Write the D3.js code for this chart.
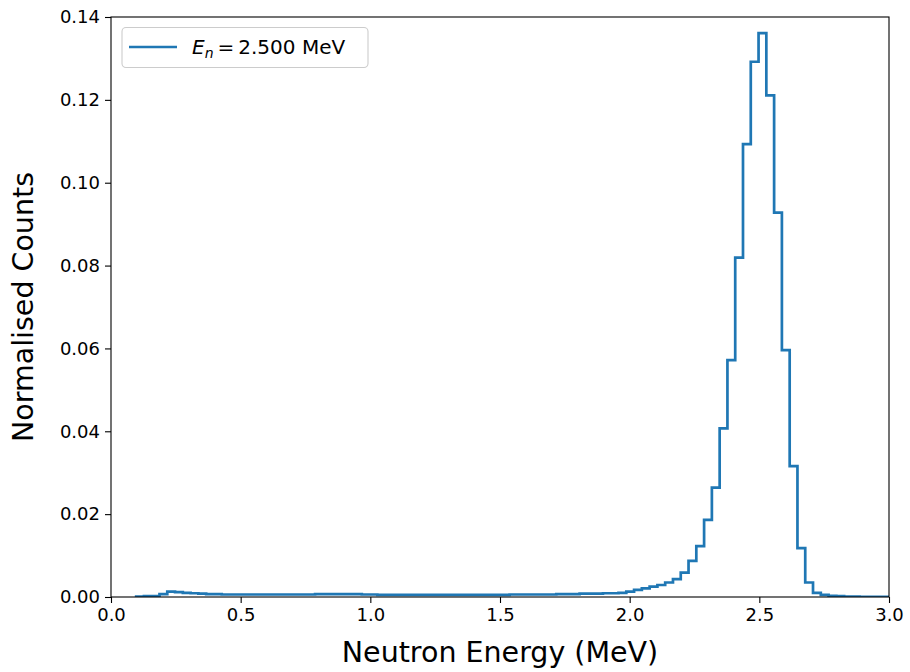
<!DOCTYPE html>
<html>
<head>
<meta charset="utf-8">
<script src="https://cdn.jsdelivr.net/npm/d3@7"></script>
<style>
  body { margin: 0; background: #fff; }
  text { font-family: "DejaVu Sans", sans-serif; }
</style>
</head>
<body>
<svg id="chart" width="910" height="672"></svg>
<script>
// histogram binning (MeV)
var binStart = 0.097;
var binWidth = 0.03;
// normalised counts per bin
var counts = [
  0.0001, 0.0002, 0.0002, 0.0007, 0.0013, 0.0012, 0.0010, 0.0009, 0.0008, 0.0007, 0.0007,
  0.0006, 0.0006, 0.0006, 0.0006, 0.0006, 0.0006, 0.0006, 0.0006, 0.0006,
  0.0006, 0.0006, 0.0006, 0.0007, 0.0007, 0.0007, 0.0007, 0.0007, 0.0007, 0.0006, 0.0006,
  0.0005, 0.0005, 0.0005, 0.0005, 0.0005, 0.0005, 0.0005, 0.0005, 0.0005, 0.0005,
  0.0005, 0.0005, 0.0005, 0.0005, 0.0005,
  0.0005, 0.0005, 0.0006, 0.0006, 0.0006, 0.0006, 0.0006,
  0.0006, 0.0007, 0.0007, 0.0007, 0.0008, 0.0008, 0.0008,
  0.0009, 0.0009, 0.0010, 0.0013, 0.0017, 0.0021, 0.0025, 0.0029, 0.0035, 0.0043,
  0.0059, 0.0087, 0.0123, 0.0186, 0.0264, 0.0407, 0.0572, 0.0819, 0.1093, 0.1292,
  0.1361, 0.1211, 0.0928, 0.0596, 0.0316, 0.0118, 0.0035, 0.0010, 0.0005, 0.0003,
  0.0002, 0.0001, 0.0001, 0.00005, 0.00005, 0.00003, 0.00002
];
var xTicks = [0.0, 0.5, 1.0, 1.5, 2.0, 2.5, 3.0];
var yTicks = [0.00, 0.02, 0.04, 0.06, 0.08, 0.10, 0.12, 0.14];
var seriesLabel = "2.500 MeV";

var svg = d3.select("#chart");
var m = {left: 111, right: 889, top: 17, bottom: 597};

var x = d3.scaleLinear().domain([0, 3.0]).range([m.left, m.right]);
var y = d3.scaleLinear().domain([0, 0.14]).range([m.bottom, m.top]);

svg.append("defs").append("clipPath").attr("id", "clip")
  .append("rect")
  .attr("x", m.left).attr("y", m.top)
  .attr("width", m.right - m.left).attr("height", m.bottom - m.top);

// step outline like histtype='step'
var pts = [[binStart, 0]];
counts.forEach(function(c, i) {
  pts.push([binStart + i * binWidth, c]);
});
pts.push([binStart + counts.length * binWidth, counts[counts.length - 1]]);
pts.push([binStart + counts.length * binWidth, 0]);

var line = d3.line()
  .x(function(d) { return x(d[0]); })
  .y(function(d) { return y(d[1]); })
  .curve(d3.curveStepAfter);

svg.append("path")
  .datum(pts)
  .attr("clip-path", "url(#clip)")
  .attr("d", line)
  .attr("fill", "none")
  .attr("stroke", "#1f77b4")
  .attr("stroke-width", 2.7)
  .attr("stroke-linejoin", "miter");

// axes
var xAxis = d3.axisBottom(x).tickValues(xTicks).tickFormat(d3.format(".1f")).tickSize(6).tickPadding(5);
var yAxis = d3.axisLeft(y).tickValues(yTicks).tickFormat(d3.format(".2f")).tickSize(6).tickPadding(5);

var gx = svg.append("g").attr("transform", "translate(0," + m.bottom + ")").call(xAxis);
var gy = svg.append("g").attr("transform", "translate(" + m.left + ",0)").call(yAxis);
[gx, gy].forEach(function(g) {
  g.select(".domain").remove();
  g.selectAll(".tick line").attr("stroke", "#000").attr("stroke-width", 1.1);
  g.selectAll(".tick text").attr("fill", "#000")
    .style("font-size", "18px").style("font-family", "DejaVu Sans");
});

// frame
svg.append("rect")
  .attr("x", m.left).attr("y", m.top)
  .attr("width", m.right - m.left).attr("height", m.bottom - m.top)
  .attr("fill", "none").attr("stroke", "#000").attr("stroke-width", 1.1);

// axis labels
svg.append("text")
  .attr("x", (m.left + m.right) / 2).attr("y", 662)
  .attr("text-anchor", "middle")
  .style("font-size", "28.5px")
  .text("Neutron Energy (MeV)");

svg.append("text")
  .attr("transform", "translate(33," + (m.top + m.bottom) / 2 + ") rotate(-90)")
  .attr("text-anchor", "middle")
  .style("font-size", "28.5px")
  .text("Normalised Counts");

// legend
var lg = svg.append("g");
lg.append("rect")
  .attr("x", 122).attr("y", 27.5).attr("width", 246).attr("height", 40)
  .attr("rx", 4).attr("ry", 4)
  .attr("fill", "#fff").attr("fill-opacity", 0.8)
  .attr("stroke", "#ccc").attr("stroke-width", 1.1);
lg.append("line")
  .attr("x1", 129).attr("x2", 177).attr("y1", 47).attr("y2", 47)
  .attr("stroke", "#1f77b4").attr("stroke-width", 2.7);
var lt = lg.append("text").attr("x", 192).attr("y", 54).style("font-size", "20px");
lt.append("tspan").style("font-style", "italic").text("E");
lt.append("tspan").style("font-style", "italic").style("font-size", "14px").attr("dy", 4).text("n");
lt.append("tspan").attr("dy", -4).attr("dx", 4).text("=");
lt.append("tspan").attr("dx", 4).text(seriesLabel);
</script>
</body>
</html>
